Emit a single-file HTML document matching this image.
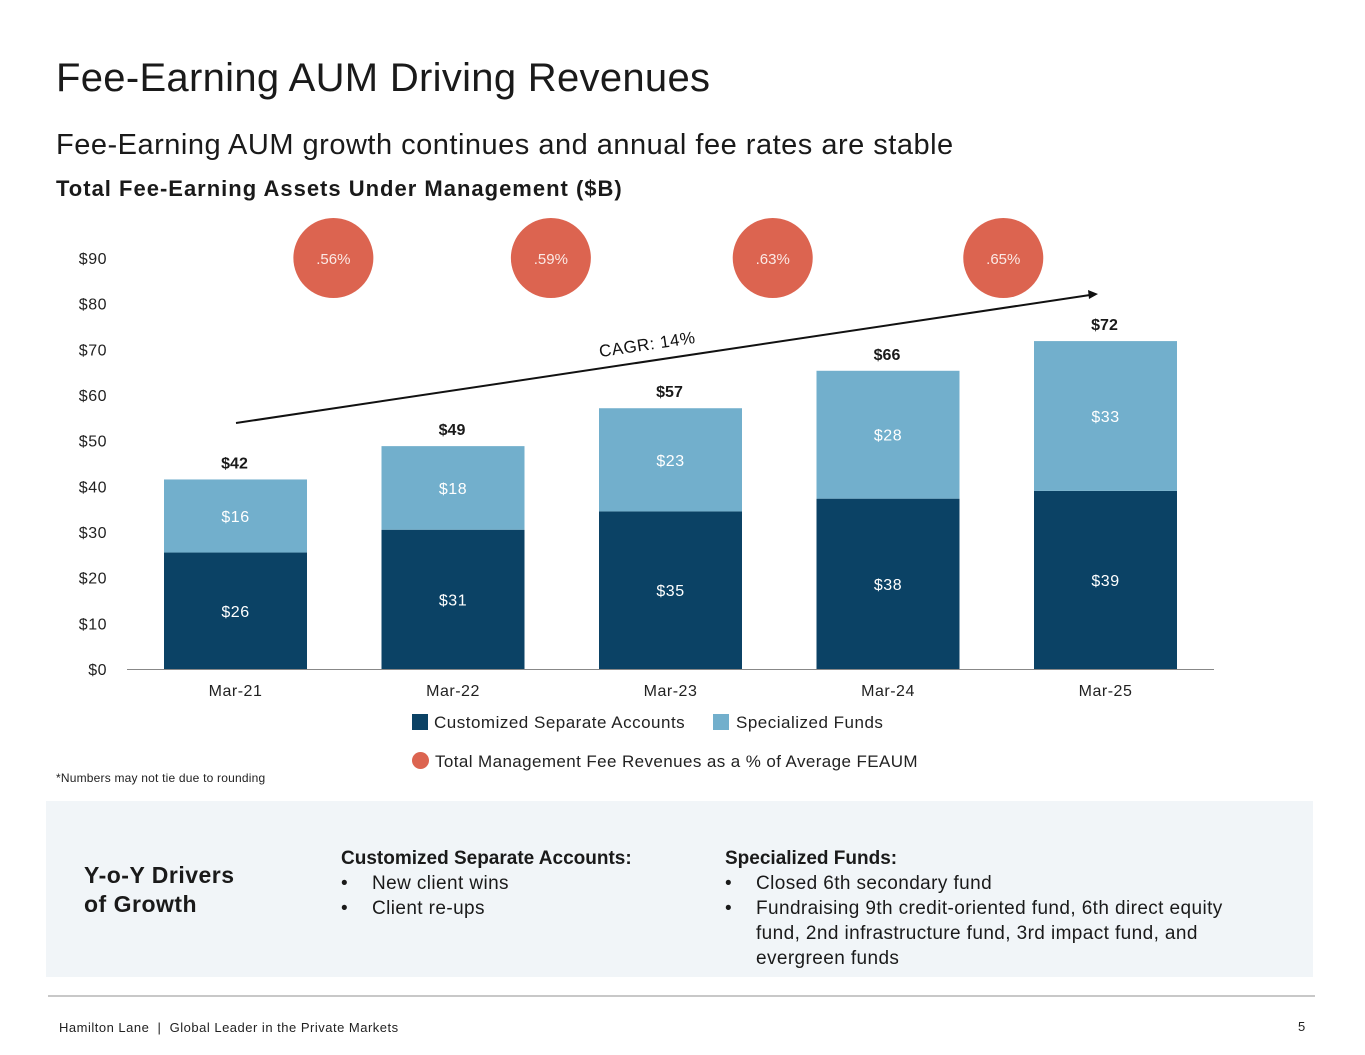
<!DOCTYPE html>
<html><head><meta charset="utf-8">
<style>
body{margin:0;width:1365px;height:1055px;background:#fff;font-family:"Liberation Sans",sans-serif;color:#111;position:relative;overflow:hidden}
.abs{position:absolute;white-space:nowrap}
</style></head><body>
<div class="abs" style="left:56px;top:56px;font-size:40px;color:#1a1a1a;letter-spacing:0.3px">Fee-Earning AUM Driving Revenues</div>
<div class="abs" style="left:56px;top:129px;font-size:29px;color:#1a1a1a;letter-spacing:0.5px">Fee-Earning AUM growth continues and annual fee rates are stable</div>
<div class="abs" style="left:56px;top:176px;font-size:22px;font-weight:bold;color:#1a1a1a;letter-spacing:1px">Total Fee-Earning Assets Under Management ($B)</div>

<svg id="chart" width="1365" height="800" style="position:absolute;left:0;top:0" font-family="Liberation Sans, sans-serif"></svg>

<div class="abs" style="left:412px;top:713px;font-size:17px;color:#222;letter-spacing:0.5px"><span style="display:inline-block;width:16px;height:16px;background:#0b4265;vertical-align:-2px;margin-right:6px"></span>Customized Separate Accounts</div>
<div class="abs" style="left:713px;top:713px;font-size:17px;color:#222;letter-spacing:0.5px"><span style="display:inline-block;width:16px;height:16px;background:#72afcc;vertical-align:-2px;margin-right:7px"></span>Specialized Funds</div>
<div class="abs" style="left:412px;top:752px;font-size:17px;color:#222;letter-spacing:0.4px"><span style="display:inline-block;width:17px;height:17px;border-radius:50%;background:#dc6450;vertical-align:-2px;margin-right:6px"></span>Total Management Fee Revenues as a % of Average FEAUM</div>
<div class="abs" style="left:56px;top:771px;font-size:12px;color:#222;letter-spacing:0.2px">*Numbers may not tie due to rounding</div>

<div class="abs" style="left:46px;top:801px;width:1267px;height:176px;background:#f1f5f8"></div>
<div class="abs" style="left:84px;top:861px;font-size:23px;line-height:29px;color:#1a1a1a;font-weight:bold;letter-spacing:0.5px">Y-o-Y Drivers<br>of Growth</div>
<div class="abs" style="left:341px;top:846px;font-size:19px;line-height:25px;color:#1a1a1a;letter-spacing:0.4px">
<div style="font-weight:bold;letter-spacing:0">Customized Separate Accounts:</div>
<div><span style="display:inline-block;width:31px">•</span>New client wins</div>
<div><span style="display:inline-block;width:31px">•</span>Client re-ups</div></div>
<div class="abs" style="left:725px;top:846px;font-size:19px;line-height:25px;color:#1a1a1a;white-space:normal;width:535px;letter-spacing:0.4px">
<div style="font-weight:bold;letter-spacing:0">Specialized Funds:</div>
<div><span style="display:inline-block;width:31px">•</span>Closed 6th secondary fund</div>
<div style="padding-left:31px;text-indent:-31px"><span style="display:inline-block;width:31px;text-indent:0">•</span>Fundraising 9th credit-oriented fund, 6th direct equity fund, 2nd infrastructure fund, 3rd impact fund, and evergreen funds</div></div>

<div class="abs" style="left:48px;top:995px;width:1267px;height:2px;background:#c8c8c8"></div>
<div class="abs" style="left:59px;top:1020px;font-size:13px;color:#222;letter-spacing:0.5px">Hamilton Lane &nbsp;|&nbsp; Global Leader in the Private Markets</div>
<div class="abs" style="left:1298px;top:1019px;font-size:13px;color:#222">5</div>

<script>
const categories=["Mar-21","Mar-22","Mar-23","Mar-24","Mar-25"];
const csaValues=[25.5,30.5,34.5,37.3,39];
const sfValues=[16,18.3,22.6,28,32.8];
const csaLabels=["$26","$31","$35","$38","$39"];
const sfLabels=["$16","$18","$23","$28","$33"];
const totalLabels=["$42","$49","$57","$66","$72"];
const feeRates=[".56%",".59%",".63%",".65%"];
const feeRateCenters=[1.45,2.45,3.47,4.53];
const yTicks=[0,10,20,30,40,50,60,70,80,90];
const yTickLabels=["$0","$10","$20","$30","$40","$50","$60","$70","$80","$90"];

const svg=document.getElementById('chart');
const NS="http://www.w3.org/2000/svg";
const y0=669,pxPerUnit=4.567,x0=235.5,step=217.5,barW=143;
const yS=v=>y0-v*pxPerUnit;
const xS=i=>x0+i*step;
function mk(t,a,txt){const e=document.createElementNS(NS,t);for(const k in a)e.setAttribute(k,a[k]);if(txt!==undefined)e.textContent=txt;svg.appendChild(e);return e;}

yTicks.forEach((v,i)=>{
 const t=mk('text',{x:107,y:yS(v)+6,'text-anchor':'end','font-size':16,fill:'#222','letter-spacing':0.5},yTickLabels[i]);
 
 
});
const ax=mk('line',{x1:127,x2:1214,y1:y0+0.5,y2:y0+0.5,stroke:'#888','stroke-width':1});



categories.forEach((c,i)=>{
 const cx=xS(i),a=csaValues[i],b=sfValues[i];
 const r1=mk('rect',{x:cx-barW/2,y:yS(a),width:barW,height:a*pxPerUnit,fill:'#0b4265'});
 
 
 const r2=mk('rect',{x:cx-barW/2,y:yS(a+b),width:barW,height:b*pxPerUnit,fill:'#72afcc'});
 
 
 const l1=mk('text',{x:cx,y:yS(a/2)+6,'text-anchor':'middle','font-size':16,fill:'#fff','letter-spacing':0.5},csaLabels[i]);
 
 
 const l2=mk('text',{x:cx,y:yS(a+b/2)+6,'text-anchor':'middle','font-size':16,fill:'#fff','letter-spacing':0.5},sfLabels[i]);
 
 
 const l3=mk('text',{x:cx-1,y:yS(a+b)-11,'text-anchor':'middle','font-size':16,'font-weight':'bold',fill:'#1a1a1a'},totalLabels[i]);
 
 
 const xl=mk('text',{x:cx,y:696,'text-anchor':'middle','font-size':16,fill:'#222','letter-spacing':0.5},c);
 
 
});

feeRates.forEach((r,i)=>{
 const cx=xS(feeRateCenters[i]-1);
 const c=mk('circle',{cx:cx,cy:258,r:40,fill:'#dc6450'});
 
 
 const t=mk('text',{x:cx,y:264,'text-anchor':'middle','font-size':15,fill:'#fbe9e5'},r);
 
 
});

const arr=mk('line',{x1:236,y1:423,x2:1090,y2:295,stroke:'#111','stroke-width':2});


const head=mk('polygon',{points:'1098,294 1088,290 1089,299',fill:'#111'});


const cg=mk('text',{x:648,y:350,'text-anchor':'middle','font-size':17,fill:'#111','letter-spacing':0.5,transform:'rotate(-8.5 648 350)'},'CAGR: 14%');


</script>
</body></html>
